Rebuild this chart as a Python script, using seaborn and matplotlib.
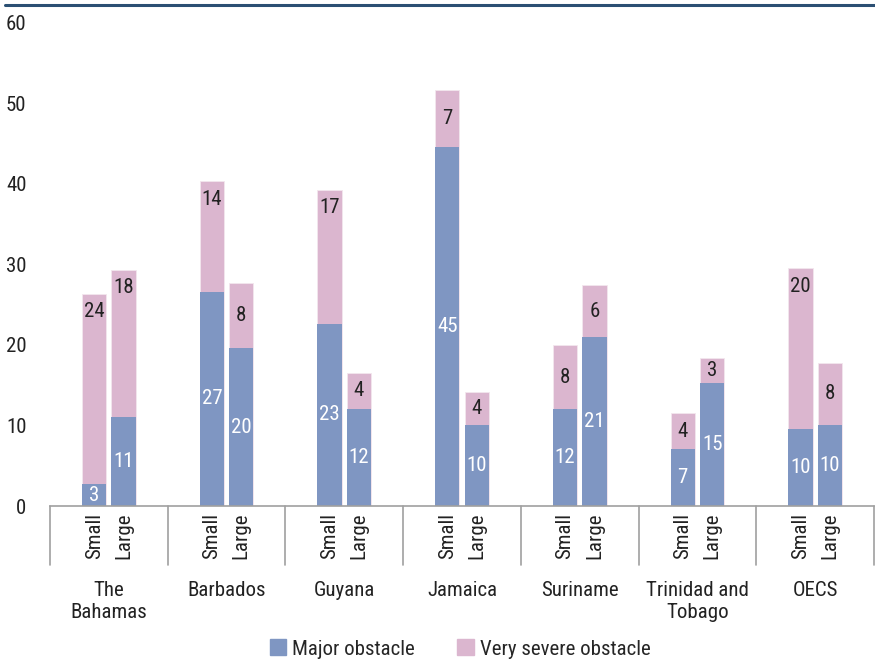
import pandas as pd
import seaborn as sns
import matplotlib.pyplot as plt
from matplotlib.patches import Patch
from matplotlib.lines import Line2D

sns.set_style("white")
plt.rcParams['font.family'] = ['Roboto Condensed', 'Archivo Narrow', 'Liberation Sans', 'DejaVu Sans']

countries = ["The\nBahamas", "Barbados", "Guyana", "Jamaica", "Suriname",
             "Trinidad and\nTobago", "OECS"]
sizes = ["Small", "Large"]
major_small = [2.7, 26.6, 22.6, 44.6, 12.0, 7.1, 9.6]
major_large = [11.0, 19.6, 12.1, 10.1, 21.0, 15.3, 10.1]
severe_small = [23.6, 13.7, 16.6, 7.0, 8.0, 4.4, 19.9]
severe_large = [18.3, 8.1, 4.4, 4.1, 6.4, 3.1, 7.7]

BLUE = "#7f96c2"
PINK = "#dbb6cf"
FS = 15

rows = []
for i, c in enumerate(countries):
    rows.append({"country": c, "size": "Small", "major": major_small[i], "severe": severe_small[i]})
    rows.append({"country": c, "size": "Large", "major": major_large[i], "severe": severe_large[i]})
df = pd.DataFrame(rows)
df["total"] = df["major"] + df["severe"]

fig = plt.figure(figsize=(8.75, 6.65), dpi=100)
ax = fig.add_axes([50 / 875, 159 / 665, 824 / 875, 483.3 / 665])

# pink = total height, blue drawn on top = major part
sns.barplot(data=df, x="country", y="total", hue="size", hue_order=sizes,
            palette={"Small": PINK, "Large": PINK}, width=0.5, gap=0.17,
            legend=False, ax=ax, saturation=1, edgecolor="#f3e6ee", linewidth=0.6)
sns.barplot(data=df, x="country", y="major", hue="size", hue_order=sizes,
            palette={"Small": BLUE, "Large": BLUE}, width=0.5, gap=0.17,
            legend=False, ax=ax, saturation=1, linewidth=0)

tot_cont = ax.containers[:2]
maj_cont = ax.containers[2:]
for tc, mc in zip(tot_cont, maj_cont):
    for tb, mb in zip(tc, mc):
        xc = mb.get_x() + mb.get_width() / 2
        m = mb.get_height()
        t = tb.get_height()
        s = t - m
        ax.text(xc, m / 2, f"{m:.0f}", ha="center", va="center", color="white", fontsize=FS)
        ys = t - 2.2 if s > 9 else m + s / 2
        ax.text(xc, ys, f"{s:.0f}", ha="center", va="center", color="#222222", fontsize=FS)

ax.set_xlim(-0.5, len(countries) - 0.5)
ax.set_ylim(0, 60)
ax.set_yticks(range(0, 61, 10))
ax.tick_params(axis="y", length=7, width=1, color="#a0a0a0", pad=10, labelsize=FS, labelcolor="#222222")

# Small / Large labels under every bar
xt, xl = [], []
for k, cont in enumerate(maj_cont):
    for b in cont:
        xt.append(b.get_x() + b.get_width() / 2)
        xl.append(sizes[k])
ax.set_xticks(xt)
ax.set_xticklabels(xl, rotation=90, fontsize=FS, color="#222222")
ax.tick_params(axis="x", length=0, pad=5)
ax.set_xlabel("")
ax.set_ylabel("")

for sp in ["top", "right", "left"]:
    ax.spines[sp].set_visible(False)
ax.spines["bottom"].set_color("#a0a0a0")
ax.spines["bottom"].set_linewidth(1.2)

trans = ax.get_xaxis_transform()
for k in range(len(countries) + 1):
    ax.plot([k - 0.5, k - 0.5], [0, -0.122], transform=trans, color="#a0a0a0",
            lw=1.2, clip_on=False)
for i, c in enumerate(countries):
    ax.text(i, -0.156, c, transform=trans, ha="center", va="top", fontsize=FS,
            color="#222222", linespacing=1.2, multialignment="center")

handles = [Patch(color=BLUE, label="Major obstacle"),
           Patch(color=PINK, label="Very severe obstacle")]
fig.legend(handles=handles, loc="center", bbox_to_anchor=(460 / 875, 1 - 649 / 665),
           ncol=2, frameon=False, fontsize=FS, handlelength=0.8, handleheight=0.8,
           handletextpad=0.3, columnspacing=2.0)

fig.add_artist(Line2D([5 / 875, 1], [1 - 4.7 / 665] * 2, transform=fig.transFigure,
                      color="#2b4f73", lw=2.2))

fig.savefig("out.png", dpi=100)
